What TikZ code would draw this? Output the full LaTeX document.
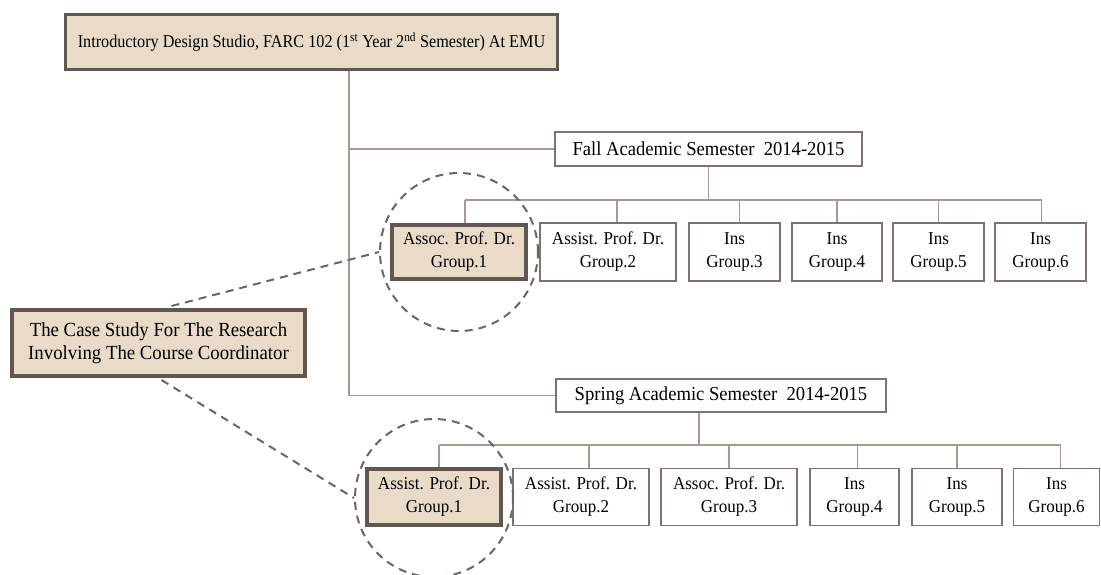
\documentclass[tikz,border=0pt]{standalone}
\usepackage{fontspec}
\setmainfont[FakeStretch=0.94]{Liberation Serif}
\newfontfamily\titlefont[FakeStretch=0.9]{Liberation Serif}
\usetikzlibrary{calc}
\definecolor{boxfill}{HTML}{EADBC8}
\definecolor{thickline}{HTML}{5F5750}
\definecolor{thinline}{HTML}{7D736C}
\definecolor{linkline}{HTML}{A69A92}
\definecolor{dashline}{HTML}{6E655E}
\tikzset{
  x=1pt, y=-1pt,
  plainbox/.style={draw=thinline, line width=1.3pt, fill=white, inner sep=0pt, align=center,
    font=\fontsize{18.1}{23}\selectfont},
  keybox/.style={draw=thickline, line width=4pt, fill=boxfill, inner sep=0pt, align=center,
    font=\fontsize{18.1}{23}\selectfont},
  link/.style={draw=linkline, line width=1.3pt},
  focus/.style={draw=dashline, line width=2pt, dash pattern=on 8pt off 6pt},
  ring/.style={circle, draw=dashline, line width=2pt, dash pattern=on 8pt off 6pt, minimum size=158pt, inner sep=0pt}
}
\begin{document}
\begin{tikzpicture}
\useasboundingbox (0,0) rectangle (1101,574);

% heading and case-study boxes
\node[keybox, line width=3pt, minimum width=492pt, minimum height=55pt, font=\titlefont\fontsize{18}{22}\selectfont]
  (top) at (311.5,42) {Introductory Design Studio, FARC 102 (1\textsuperscript{st} Year 2\textsuperscript{nd} Semester) At EMU};
\node[keybox, minimum width=293pt, minimum height=66pt, font=\fontsize{20}{23.5}\selectfont]
  (case) at (158.5,343) {The Case Study For The Research\\Involving The Course Coordinator};

% semester boxes
\node[plainbox, minimum width=307pt, minimum height=34pt, font=\fontsize{19.8}{24}\selectfont]
  (fall) at (708.5,149) {Fall Academic Semester\ \ 2014-2015};
\node[plainbox, minimum width=330pt, minimum height=33pt, font=\fontsize{19.8}{24}\selectfont]
  (spring) at (721,395.5) {Spring Academic Semester\ \ 2014-2015};

% fall groups
\node[keybox, minimum width=134pt, minimum height=54pt] (f1) at (459,252) {Assoc. Prof. Dr.\\Group.1};
\node[plainbox, minimum width=136pt, minimum height=58pt] (f2) at (608,252) {Assist. Prof. Dr.\\Group.2};
\node[plainbox, minimum width=91pt, minimum height=58pt] (f3) at (734.5,252) {Ins\\Group.3};
\node[plainbox, minimum width=90pt, minimum height=58pt] (f4) at (837,252) {Ins\\Group.4};
\node[plainbox, minimum width=91pt, minimum height=58pt] (f5) at (938.5,252) {Ins\\Group.5};
\node[plainbox, minimum width=91pt, minimum height=58pt] (f6) at (1040.5,252) {Ins\\Group.6};

% spring groups
\node[keybox, minimum width=134pt, minimum height=56pt] (s1) at (434,497) {Assist. Prof. Dr.\\Group.1};
\node[plainbox, minimum width=136pt, minimum height=57pt] (s2) at (581,497) {Assist. Prof. Dr.\\Group.2};
\node[plainbox, minimum width=136pt, minimum height=57pt] (s3) at (729,497) {Assoc. Prof. Dr.\\Group.3};
\node[plainbox, minimum width=89pt, minimum height=57pt] (s4) at (854.5,497) {Ins\\Group.4};
\node[plainbox, minimum width=90pt, minimum height=57pt] (s5) at (957,497) {Ins\\Group.5};
\node[plainbox, minimum width=86pt, minimum height=57pt] (s6) at (1056.5,497) {Ins\\Group.6};

% trunk from the heading to both semesters
\coordinate (trunk) at (349,0);
\draw[link] (top.south -| trunk) -- (trunk |- spring.west) -- (spring.west);
\draw[link] (trunk |- fall.west) -- (fall.west);

% attachment points of the branch lines on each group box
\coordinate (fall-out) at (fall.south);
\coordinate (spring-out) at ($(spring.south)+(-22,0)$);
\foreach \n/\dx in {f1/6, f2/9, f3/5, f4/0, f5/0, f6/1, s1/5, s2/8, s3/0, s4/3, s5/0, s6/4}
  \coordinate (\n-in) at ($(\n.north)+(\dx,0)$);

% fall branches
\coordinate (fbar) at (0,200);
\draw[link] (fall-out) -- (fall-out |- fbar);
\draw[link] (f1-in |- fbar) -- (f6-in |- fbar);
\foreach \n in {f1,f2,f3,f4,f5,f6}
  \draw[link] (\n-in) -- (\n-in |- fbar);

% spring branches
\coordinate (sbar) at (0,445);
\draw[link] (spring-out) -- (spring-out |- sbar);
\draw[link] (s1-in |- sbar) -- (s6-in |- sbar);
\foreach \n in {s1,s2,s3,s4,s5,s6}
  \draw[link] (\n-in) -- (\n-in |- sbar);

% dashed rings around the coordinator's groups
\node[ring] (c1) at (459,252) {};
\node[ring] (c2) at (434,498) {};
\draw[focus] ($(case.north)+(13,-2)$) -- (c1.west);
\draw[focus] ($(case.south)+(3,2)$) -- (c2.west);
\end{tikzpicture}
\end{document}
